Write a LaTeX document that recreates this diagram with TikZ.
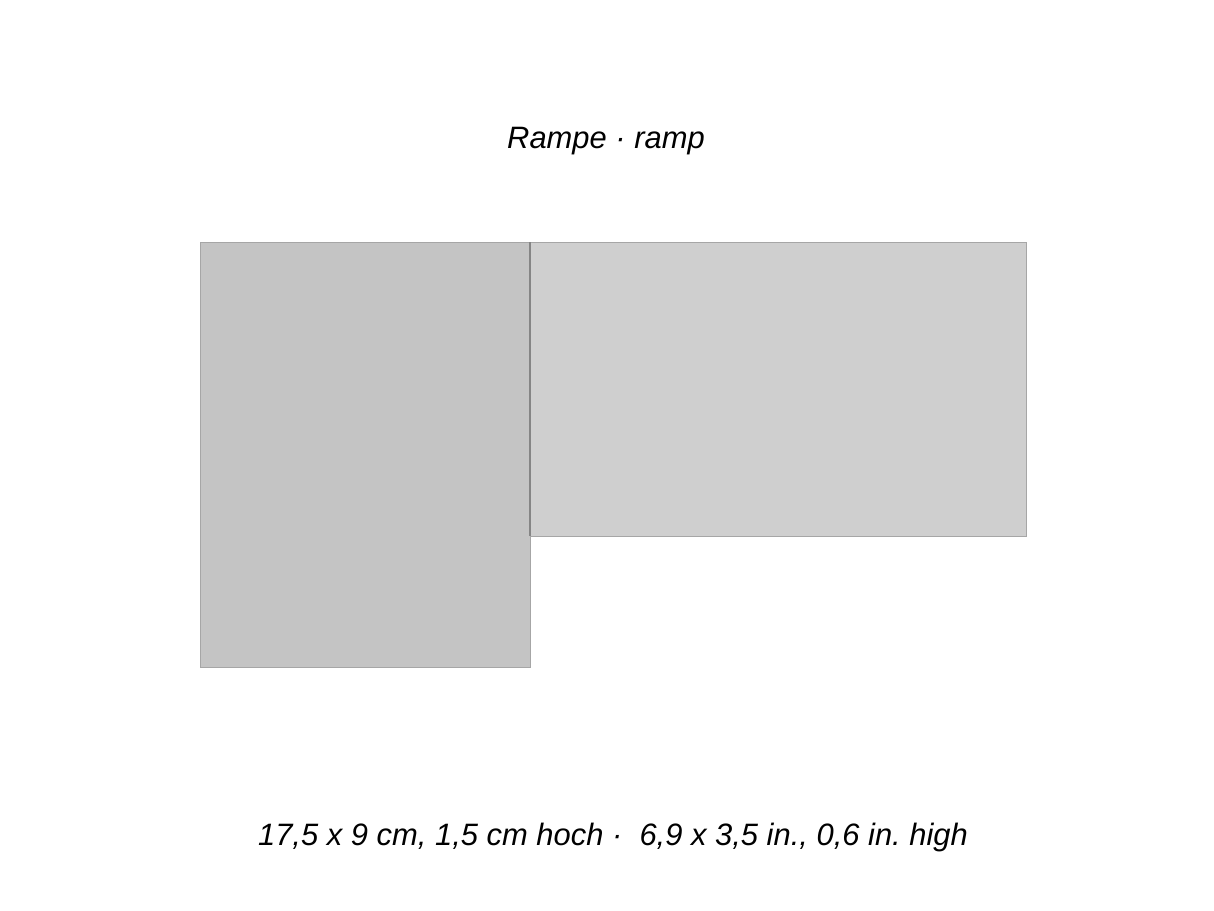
\documentclass[tikz,border=0pt]{standalone}
\usepackage{fontspec}
\setmainfont{Liberation Sans}
\frenchspacing
\definecolor{rampdark}{HTML}{C4C4C4}
\definecolor{ramplight}{HTML}{CFCFCF}
\definecolor{rampedge}{HTML}{A6A6A6}

\begin{document}
\begin{tikzpicture}[x=0.02cm, y=-0.02cm, every node/.style={font=\fontsize{17.6}{20}\selectfont\itshape}]
                            \useasboundingbox (0,0) rectangle (1214,910);
                            \node (title) at (606,141) {Rampe · ramp};

                            \filldraw[fill=rampdark, draw=rampedge, line width=0.5pt] (200,242) rectangle (530,667);
                            \filldraw[fill=ramplight, draw=rampedge, line width=0.5pt] (530,242) rectangle (1026,536);
                            \draw[rampedge!80!black, line width=0.6pt] (530,242) -- (530,536);

                            \node (size) at (613,837) {17,5 x 9 cm, 1,5 cm hoch ·\ \ 6,9 x 3,5 in., 0,6 in. high};
                        \end{tikzpicture}
\end{document}
